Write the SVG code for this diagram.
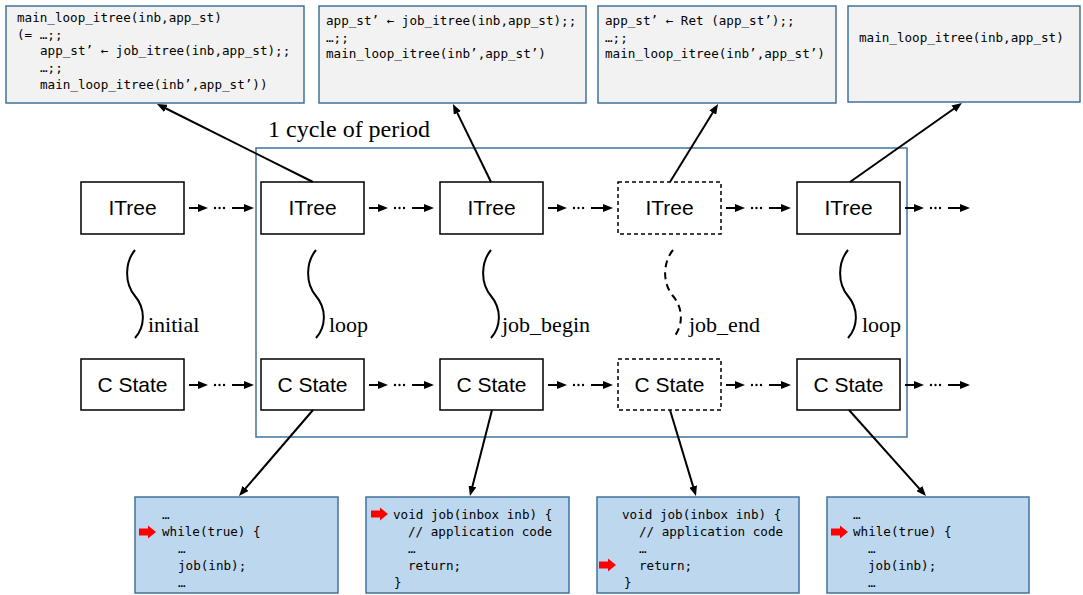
<svg xmlns="http://www.w3.org/2000/svg" xmlns:xlink="http://www.w3.org/1999/xlink" width="1083" height="595" viewBox="0 0 1083 595">
<style>
.code{font-family:"DejaVu Sans Mono","Liberation Mono",monospace;font-size:12.6px;fill:#000}
.topbox{fill:#f2f2f2;stroke:#41719c;stroke-width:1.5}
.botbox{fill:#bdd7ee;stroke:#41719c;stroke-width:1.5}
.node{fill:#fff;stroke:#000;stroke-width:1.5}
.dash{stroke-dasharray:4 3}
.lbl{font-family:"Liberation Sans",Arial,sans-serif;font-size:21px;fill:#000;text-anchor:middle}
.serif{font-family:"Liberation Serif","Times New Roman",serif;font-size:22px;fill:#000}
.conn{stroke:#000;stroke-width:2;fill:none;marker-end:url(#ah)}
.sq{stroke:#000;stroke-width:2;fill:none}
.dot{fill:#000}
</style>
<defs>
<marker id="ah" viewBox="0 0 10 8" markerWidth="10" markerHeight="8" markerUnits="userSpaceOnUse" refX="1" refY="4" orient="auto">
<path d="M0,0 L10,4 L0,8 z" fill="#000"/>
</marker>
<path id="squig" d="M3,250 C-7,262 -8,283 3,296 C14,309 13,327 3,338"/>
<path id="redarrow" d="M0,-3.5 L9,-3.5 L9,-6.5 L17,0 L9,6.5 L9,3.5 L0,3.5 z" fill="#ff0000"/>
<g id="hops">
<line x1="5" y1="0" x2="15" y2="0" class="conn"/>
<circle cx="31" cy="0" r="1.2" class="dot"/>
<circle cx="35.5" cy="0" r="1.2" class="dot"/>
<circle cx="40" cy="0" r="1.2" class="dot"/>
<line x1="48" y1="0" x2="61" y2="0" class="conn"/>
</g>
</defs>
<rect width="1083" height="595" fill="#fff"/>

<!-- top code boxes -->
<g id="code-top-1">
<rect x="6" y="6" width="298" height="97" class="topbox"/>
<text class="code" x="17" y="22">main_loop_itree(inb,app_st)</text>
<text class="code" x="17" y="39">(= …;;</text>
<text class="code" x="40" y="55">app_st’ ← job_itree(inb,app_st);;</text>
<text class="code" x="40" y="72">…;;</text>
<text class="code" x="40" y="89">main_loop_itree(inb’,app_st’))</text>
</g>
<g id="code-top-2">
<rect x="319" y="6" width="267" height="97" class="topbox"/>
<text class="code" x="326" y="25">app_st’ ← job_itree(inb,app_st);;</text>
<text class="code" x="326" y="42">…;;</text>
<text class="code" x="326" y="58">main_loop_itree(inb’,app_st’)</text>
</g>
<g id="code-top-3">
<rect x="598" y="6" width="238" height="97" class="topbox"/>
<text class="code" x="605" y="25">app_st’ ← Ret (app_st’);;</text>
<text class="code" x="605" y="42">…;;</text>
<text class="code" x="605" y="58">main_loop_itree(inb’,app_st’)</text>
</g>
<g id="code-top-4">
<rect x="848" y="6" width="232" height="96" class="topbox"/>
<text class="code" x="859" y="42">main_loop_itree(inb,app_st)</text>
</g>

<!-- period frame -->
<g id="period">
<rect x="256" y="148" width="651" height="289" fill="none" stroke="#41719c" stroke-width="1.5"/>
<text class="serif" x="268" y="137" style="font-size:24px">1 cycle of period</text>
</g>

<!-- ITree nodes -->
<g id="itree-0"><rect x="81" y="182" width="103" height="52" class="node"/><text class="lbl" x="132.5" y="215">ITree</text></g>
<g id="itree-1"><rect x="261" y="182" width="103" height="52" class="node"/><text class="lbl" x="312.5" y="215">ITree</text></g>
<g id="itree-2"><rect x="440" y="182" width="103" height="52" class="node"/><text class="lbl" x="491.5" y="215">ITree</text></g>
<g id="itree-3"><rect x="618" y="182" width="103" height="52" class="node dash"/><text class="lbl" x="669.5" y="215">ITree</text></g>
<g id="itree-4"><rect x="797" y="182" width="103" height="52" class="node"/><text class="lbl" x="848.5" y="215">ITree</text></g>

<!-- C State nodes -->
<g id="cstate-0"><rect x="81" y="359" width="103" height="51" class="node"/><text class="lbl" x="132.5" y="392">C State</text></g>
<g id="cstate-1"><rect x="261" y="359" width="103" height="51" class="node"/><text class="lbl" x="312.5" y="392">C State</text></g>
<g id="cstate-2"><rect x="440" y="359" width="103" height="51" class="node"/><text class="lbl" x="491.5" y="392">C State</text></g>
<g id="cstate-3"><rect x="618" y="359" width="103" height="51" class="node dash"/><text class="lbl" x="669.5" y="392">C State</text></g>
<g id="cstate-4"><rect x="797" y="359" width="103" height="51" class="node"/><text class="lbl" x="848.5" y="392">C State</text></g>

<!-- relations -->
<g id="relations">
<use xlink:href="#squig" href="#squig" class="sq" transform="translate(132,0)"/>
<text class="serif" x="148" y="332">initial</text>
<use xlink:href="#squig" href="#squig" class="sq" transform="translate(313,0)"/>
<text class="serif" x="329" y="332">loop</text>
<use xlink:href="#squig" href="#squig" class="sq" transform="translate(488,0)"/>
<text class="serif" x="502" y="332">job_begin</text>
<use xlink:href="#squig" href="#squig" class="sq" transform="translate(670,0)" stroke-dasharray="7 5"/>
<text class="serif" x="689" y="332">job_end</text>
<use xlink:href="#squig" href="#squig" class="sq" transform="translate(845,0)"/>
<text class="serif" x="862" y="332">loop</text>
</g>

<!-- bottom code boxes -->
<g id="code-bot-1">
<rect x="135" y="497" width="203" height="96" class="botbox"/>
<text class="code" x="162" y="519">…</text>
<use xlink:href="#redarrow" href="#redarrow" transform="translate(139,532)"/>
<text class="code" x="162" y="536">while(true) {</text>
<text class="code" x="178" y="553">…</text>
<text class="code" x="178" y="570">job(inb);</text>
<text class="code" x="178" y="587">…</text>
</g>
<g id="code-bot-2">
<rect x="366" y="497" width="203" height="96" class="botbox"/>
<use xlink:href="#redarrow" href="#redarrow" transform="translate(371,514)"/>
<text class="code" x="393" y="519">void job(inbox inb) {</text>
<text class="code" x="408" y="536">// application code</text>
<text class="code" x="408" y="553">…</text>
<text class="code" x="408" y="570">return;</text>
<text class="code" x="394" y="587">}</text>
</g>
<g id="code-bot-3">
<rect x="597" y="497" width="202" height="96" class="botbox"/>
<text class="code" x="622" y="519">void job(inbox inb) {</text>
<text class="code" x="639" y="536">// application code</text>
<text class="code" x="639" y="553">…</text>
<use xlink:href="#redarrow" href="#redarrow" transform="translate(599,565)"/>
<text class="code" x="639" y="570">return;</text>
<text class="code" x="624" y="587">}</text>
</g>
<g id="code-bot-4">
<rect x="827" y="497" width="202" height="96" class="botbox"/>
<text class="code" x="853" y="519">…</text>
<use xlink:href="#redarrow" href="#redarrow" transform="translate(831,532)"/>
<text class="code" x="853" y="536">while(true) {</text>
<text class="code" x="868" y="553">…</text>
<text class="code" x="868" y="570">job(inb);</text>
<text class="code" x="868" y="587">…</text>
</g>

<!-- connectors -->
<g id="connectors">
<use xlink:href="#hops" href="#hops" transform="translate(184,208)"/>
<use xlink:href="#hops" href="#hops" transform="translate(364,208)"/>
<use xlink:href="#hops" href="#hops" transform="translate(543,208)"/>
<use xlink:href="#hops" href="#hops" transform="translate(721,208)"/>
<use xlink:href="#hops" href="#hops" transform="translate(900,208)"/>
<use xlink:href="#hops" href="#hops" transform="translate(184,385)"/>
<use xlink:href="#hops" href="#hops" transform="translate(364,385)"/>
<use xlink:href="#hops" href="#hops" transform="translate(543,385)"/>
<use xlink:href="#hops" href="#hops" transform="translate(721,385)"/>
<use xlink:href="#hops" href="#hops" transform="translate(900,385)"/>
<line x1="313" y1="182" x2="165" y2="108" class="conn"/>
<line x1="491" y1="182" x2="456.9" y2="112.1" class="conn"/>
<line x1="670" y1="182" x2="713.3" y2="111.7" class="conn"/>
<line x1="850" y1="182" x2="954.6" y2="108.2" class="conn"/>
<line x1="313" y1="410" x2="244.9" y2="489.2" class="conn"/>
<line x1="492" y1="410" x2="472.2" y2="487.3" class="conn"/>
<line x1="670" y1="410" x2="693.4" y2="487.4" class="conn"/>
<line x1="849" y1="410" x2="920" y2="489.3" class="conn"/>
</g>
</svg>
